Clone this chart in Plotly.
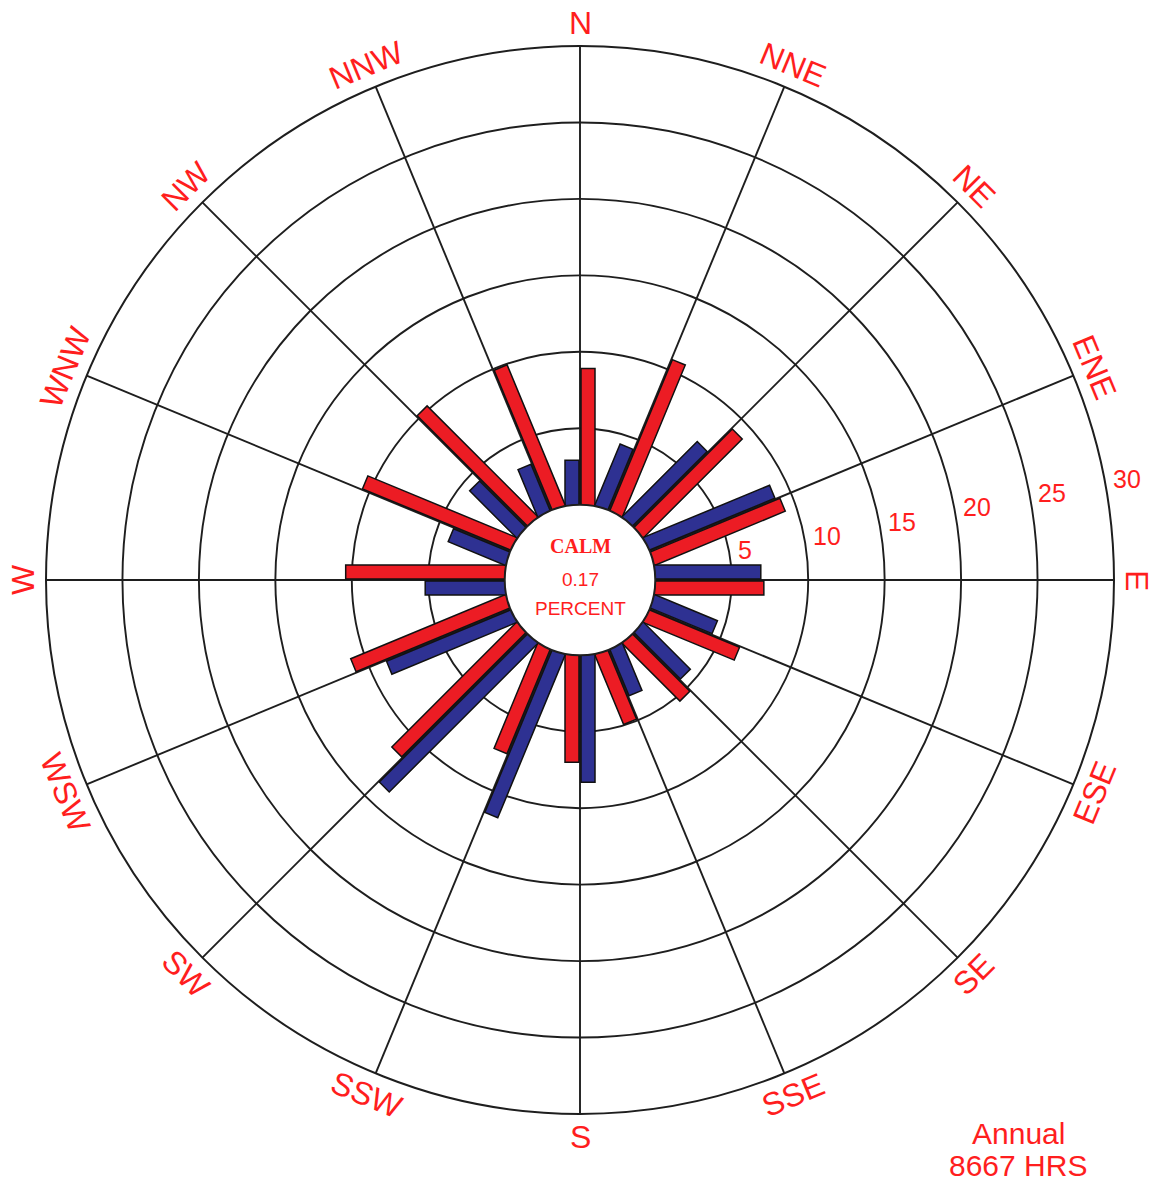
import math
import plotly.graph_objects as go

# ---------------- data ----------------
directions = ["N", "NNE", "NE", "ENE", "E", "ESE", "SE", "SSE",
              "S", "SSW", "SW", "WSW", "W", "WNW", "NW", "NNW"]
blue_pct = [2.9, 4.3, 6.9, 8.9, 6.9, 4.4, 4.3, 3.3,
            8.3, 11.5, 13.7, 8.8, 5.2, 4.0, 4.3, 3.3]
red_pct = [8.9, 10.7, 9.1, 9.2, 7.1, 6.4, 5.3, 4.9,
           7.0, 7.4, 11.5, 10.9, 10.4, 10.5, 10.2, 9.9]
radial_ticks = [5, 10, 15, 20, 25, 30]
calm_pct = "0.17"
period_label = "Annual"
hours_label = "8667 HRS"

# ---------------- styling / geometry ----------------
OFF = 0                                  # page body margin removed below
FIG_W, FIG_H = 1159, 1186
CX, CY, RAD = 580, 580, 534              # polar centre & radius (page pixels)
R_MAX = 30
HOLE_FRAC = 0.141
H = HOLE_FRAC * R_MAX / (1 - HOLE_FRAC)  # hole radius in data units
PX_PER_UNIT = RAD / (R_MAX + H)
BAR_W = 14.0 / PX_PER_UNIT
BAR_GAP = 1.0 / PX_PER_UNIT
RED_TXT = "#ff1e1e"
BAR_RED = "#ec1c24"
BAR_BLUE = "#2e3192"
GRID = "#1e1e1e"
FONT = "Liberation Sans, Arial, sans-serif"


def to_paper(px, py):
    return (px - OFF) / FIG_W, 1 - (py - OFF) / FIG_H


def bar_shape(theta0, length, p1, p2):
    """Constant-width rectangle along compass direction theta0 (polar data coords)."""
    D = length + H
    pts = [(math.sqrt(H * H - p1 * p1), p1), (math.sqrt(H * H - p2 * p2), p2),
           (D, p2), (D, p1)]
    pts.append(pts[0])
    r, t = [], []
    for d, p in pts:
        r.append(max(math.hypot(d, p) - H, 0.0))
        t.append(theta0 + math.degrees(math.atan2(p, d)))
    return r, t


fig = go.Figure()
for i, name in enumerate(directions):
    th = i * 22.5
    for vals, color, sgn in ((blue_pct, BAR_BLUE, -1), (red_pct, BAR_RED, 1)):
        r, t = bar_shape(th, vals[i], sgn * BAR_GAP, sgn * (BAR_GAP + BAR_W))
        fig.add_trace(go.Scatterpolar(
            r=r, theta=t, mode="lines", fill="toself",
            fillcolor=color, line=dict(color="#111111", width=1.5),
            hoverinfo="skip", showlegend=False))

dx0, dy1 = to_paper(CX - RAD, CY + RAD)
dx1, dy0 = to_paper(CX + RAD, CY - RAD)
fig.update_layout(
    width=FIG_W, height=FIG_H,
    margin=dict(l=0, r=0, t=0, b=0),
    paper_bgcolor="white",
    showlegend=False,
    polar=dict(
        domain=dict(x=[dx0, dx1], y=[dy1, dy0]),
        bgcolor="white",
        hole=HOLE_FRAC,
        angularaxis=dict(
            rotation=90, direction="clockwise", thetaunit="degrees",
            tickmode="array", tickvals=[i * 22.5 for i in range(16)],
            showticklabels=False, ticks="",
            showgrid=True, gridcolor=GRID, gridwidth=1.9,
            showline=True, linecolor=GRID, linewidth=2),
        radialaxis=dict(
            range=[0, R_MAX], tickmode="array", tickvals=radial_ticks,
            showticklabels=False, showline=False, ticks="",
            showgrid=True, gridcolor=GRID, gridwidth=1.9),
    ),
)

# ring value labels along a ray ~10.8 degrees above east
LABEL_RAY = math.radians(10.8)
for v in radial_ticks:
    rp = (v + H) * PX_PER_UNIT + 7
    x, y = to_paper(CX + rp * math.cos(LABEL_RAY), CY - rp * math.sin(LABEL_RAY))
    fig.add_annotation(x=x, y=y, xref="paper", yref="paper", text=str(v),
                       showarrow=False, xanchor="left", yanchor="middle",
                       font=dict(family=FONT, size=25, color=RED_TXT))

# direction labels, rotated tangentially
R_LABEL = 557
for i, name in enumerate(directions):
    th = i * 22.5
    if th <= 90:
        ang = th
    elif th < 270:
        ang = th - 180
    else:
        ang = th - 360
    x, y = to_paper(CX + R_LABEL * math.sin(math.radians(th)),
                    CY - R_LABEL * math.cos(math.radians(th)))
    fig.add_annotation(x=x, y=y, xref="paper", yref="paper",
                       text=name, showarrow=False, textangle=ang,
                       xanchor="center", yanchor="middle",
                       font=dict(family=FONT, size=32, color=RED_TXT))

# centre text
for txt, py, fam, size in (("<b>CALM</b>", 546, "Liberation Serif, Times New Roman, serif", 20),
                           (calm_pct, 579, FONT, 19),
                           ("PERCENT", 608, FONT, 19)):
    x, y = to_paper(CX, py)
    fig.add_annotation(x=x, y=y, xref="paper", yref="paper", text=txt,
                       showarrow=False, xanchor="center", yanchor="middle",
                       font=dict(family=fam, size=size, color=RED_TXT))

# footer
for txt, py in ((period_label, 1133), (hours_label, 1165)):
    x, y = to_paper(1018, py)
    fig.add_annotation(x=x, y=y, xref="paper", yref="paper", text=txt,
                       showarrow=False, xanchor="center", yanchor="middle",
                       font=dict(family=FONT, size=30, color=RED_TXT))

fig.write_html("out.html",
               config={"displayModeBar": False, "staticPlot": True},
               post_script="document.body.style.margin='0';"
                           "document.body.style.overflow='hidden';")
